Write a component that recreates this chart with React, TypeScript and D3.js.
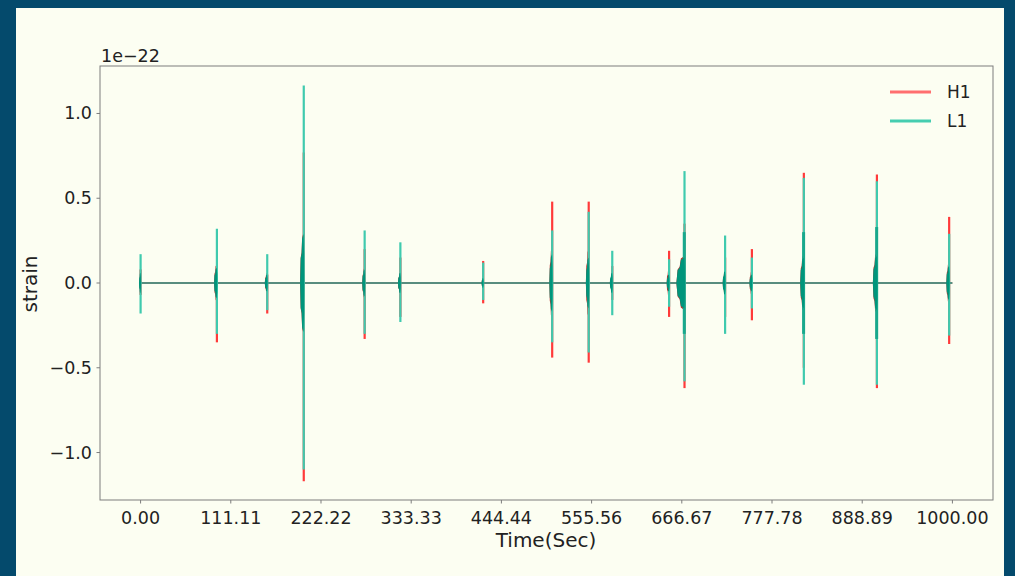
import React from "react";
import * as d3 from "d3";

// ---- data (strain in units of 1e-22) ----
const burstTimes = [0, 94, 156, 201, 276, 320, 422, 507, 552, 581, 651, 670, 720, 753, 817, 907, 996];
const h1Max = [0.08, 0.1, 0.05, 0.77, 0.2, 0.15, 0.13, 0.48, 0.48, 0.1, 0.19, 0.35, 0.15, 0.2, 0.65, 0.64, 0.39];
const h1Min = [-0.07, -0.35, -0.18, -1.17, -0.33, -0.2, -0.12, -0.44, -0.47, -0.1, -0.2, -0.62, -0.2, -0.22, -0.5, -0.62, -0.36];
const l1Max = [0.17, 0.32, 0.17, 1.165, 0.31, 0.24, 0.12, 0.31, 0.42, 0.19, 0.14, 0.66, 0.28, 0.15, 0.62, 0.6, 0.29];
const l1Min = [-0.18, -0.3, -0.16, -1.1, -0.3, -0.23, -0.1, -0.35, -0.41, -0.19, -0.14, -0.58, -0.3, -0.15, -0.6, -0.6, -0.31];
const h1Core = [0.04, 0.11, 0.06, 0.3, 0.09, 0.06, 0.03, 0.21, 0.2, 0.04, 0.08, 0.16, 0.06, 0.07, 0.17, 0.18, 0.12];
const l1Core = [0.06, 0.09, 0.05, 0.29, 0.08, 0.06, 0.03, 0.17, 0.15, 0.06, 0.05, 0.15, 0.07, 0.05, 0.15, 0.16, 0.1];
const l1Mid = [0, 0, 0, 0, 0, 0, 0, 0, 0, 0, 0, 0.3, 0, 0, 0.3, 0.33, 0];
const coreWidth = [2, 3.5, 3, 4.5, 3, 3, 2, 3.5, 3.5, 3, 3, 10, 3, 3, 4.5, 5, 3.5];
const timeRange = [0, 1000];

const xTicks = [0, 111.11, 222.22, 333.33, 444.44, 555.56, 666.67, 777.78, 888.89, 1000];
const yTicks = [-1.0, -0.5, 0.0, 0.5, 1.0];

const W = 1015;
const H = 576;
const L = 100, R = 993, T = 66, B = 500;
const FONT = "DejaVu Sans, sans-serif";

const x = d3.scaleLinear().domain([-50, 1050]).range([L, R]);
const y = d3.scaleLinear().domain([-1.28, 1.28]).range([B, T]);

const area = d3
  .area<[number, number, number]>()
  .x((d) => x(d[0]))
  .y0((d) => y(d[1]))
  .y1((d) => y(d[2]));

const line = d3
  .line<[number, number]>()
  .x((d) => x(d[0]))
  .y((d) => y(d[1]));

function envelope(t: number, w: number, a: number): [number, number, number][] {
  return [
    [t - w, 0, 0],
    [t - w * 0.85, -a * 0.5, a * 0.5],
    [t - w * 0.6, -a * 0.6, a * 0.6],
    [t - w * 0.45, -a * 0.9, a * 0.9],
    [t - 0.2, -a, a],
    [t + 0.4, -a * 0.6, a * 0.6],
    [t + 0.6, 0, 0],
  ];
}

export default function App() {
  const fmt = d3.format(".2f");
  return (
    <svg
      width={W}
      height={H}
      style={{ position: "absolute", left: 0, top: 0, display: "block" }}
      fontFamily={FONT}
    >
      <defs>
        <clipPath id="plotclip">
          <rect x={L} y={T} width={R - L} height={B - T} />
        </clipPath>
      </defs>
      <rect x={0} y={0} width={W} height={H} fill="#044a6c" />
      <rect x={16} y={8} width={988} height={H - 8} fill="#fcfef2" />

      <g clipPath="url(#plotclip)">
        {/* H1 */}
        <path d={line([[timeRange[0], 0], [timeRange[1], 0]]) || ""} stroke="#c44" strokeWidth={1.2} fill="none" />
        {burstTimes.map((t, i) => (
          <g key={"h" + i}>
            <path d={area(envelope(t, coreWidth[i], h1Core[i])) || ""} fill="#b8322c" />
            <path
              d={line([[t, h1Min[i]], [t, h1Max[i]]]) || ""}
              stroke="#ff3a3a"
              strokeWidth={2.2}
              fill="none"
            />
          </g>
        ))}
        {/* L1 */}
        <path d={line([[timeRange[0], 0], [timeRange[1], 0]]) || ""} stroke="#2a8776" strokeWidth={1.5} fill="none" />
        {burstTimes.map((t, i) => (
          <g key={"l" + i}>
            <path
              d={line([[t, l1Min[i]], [t, l1Max[i]]]) || ""}
              stroke="#3fcaae"
              strokeWidth={2.2}
              fill="none"
            />
            {l1Mid[i] > 0 && (
              <path
                d={line([[t - 0.3, -l1Mid[i]], [t - 0.3, l1Mid[i]]]) || ""}
                stroke="#17a98d"
                strokeWidth={3}
                fill="none"
              />
            )}
            <path d={area(envelope(t, coreWidth[i], l1Core[i])) || ""} fill="#00957b" />
          </g>
        ))}
      </g>

      {/* frame */}
      <rect x={L} y={T} width={R - L} height={B - T} fill="none" stroke="#7d7d7d" strokeWidth={1} />

      {/* y axis */}
      {yTicks.map((v) => (
        <g key={"y" + v}>
          <line x1={L - 3.5} x2={L} y1={y(v)} y2={y(v)} stroke="#7d7d7d" />
          <text x={L - 8} y={y(v) + 6} textAnchor="end" fontSize={17.5} fill="#222">
            {(v < 0 ? "\u2212" : "") + Math.abs(v).toFixed(1)}
          </text>
        </g>
      ))}
      <text x={L + 1} y={62} fontSize={17.5} fill="#222">1e{"\u2212"}22</text>
      <text transform={`translate(37, 284) rotate(-90)`} textAnchor="middle" fontSize={20} fill="#222">
        strain
      </text>

      {/* x axis */}
      {xTicks.map((v) => (
        <g key={"x" + v}>
          <line x1={x(v)} x2={x(v)} y1={B} y2={B + 3.5} stroke="#7d7d7d" />
          <text x={x(v)} y={B + 24} textAnchor="middle" fontSize={17.5} fill="#222">
            {fmt(v)}
          </text>
        </g>
      ))}
      <text x={546} y={547} textAnchor="middle" fontSize={20} fill="#222">
        Time(Sec)
      </text>

      {/* legend */}
      <line x1={890} x2={931} y1={92} y2={92} stroke="#ff6f6f" strokeWidth={3} />
      <text x={947} y={98} fontSize={17} fill="#222">H1</text>
      <line x1={890} x2={931} y1={121} y2={121} stroke="#45cdb0" strokeWidth={3} />
      <text x={947} y={127} fontSize={17} fill="#222">L1</text>
    </svg>
  );
}
